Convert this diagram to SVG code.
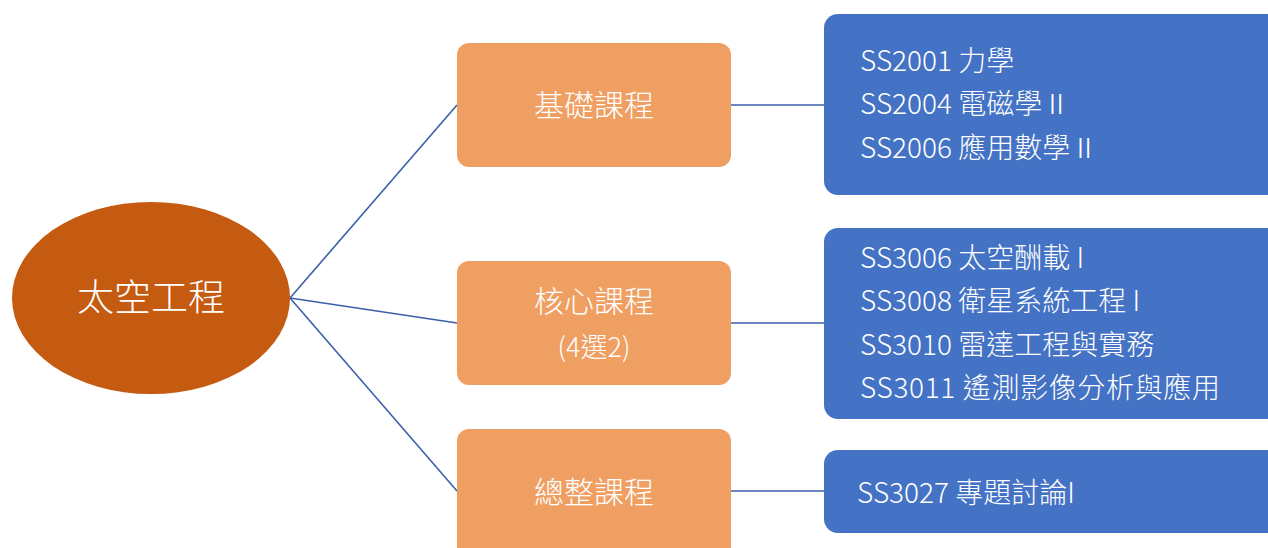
<svg xmlns="http://www.w3.org/2000/svg" width="1268" height="548" viewBox="0 0 1268 548">
<style>
.mid{fill:#F09F63;}
.leaf{fill:#4472C4;}
.t{fill:#fff;font-family:"Noto Sans CJK TC","Noto Sans",sans-serif;font-weight:300;}
.c{text-anchor:middle;}
.conn line{stroke:#3B5FA8;stroke-width:1.6;}
</style>
<rect width="1268" height="548" fill="#fff"/>
<g class="conn">
<line x1="290" y1="298" x2="457" y2="105"/>
<line x1="290" y1="298" x2="457" y2="323"/>
<line x1="290" y1="298" x2="457" y2="491"/>
<line x1="731" y1="105" x2="824" y2="105"/>
<line x1="731" y1="323" x2="824" y2="323"/>
<line x1="731" y1="491" x2="824" y2="491"/>
</g>
<g id="root">
<ellipse cx="151" cy="298" rx="139" ry="96" fill="#C55A11"/>
<text class="t c" x="151" y="311" font-size="37">太空工程</text>
</g>
<g id="basic">
<rect class="mid" x="457" y="43" width="274" height="124" rx="12"/>
<text class="t c" x="594" y="116" font-size="30">基礎課程</text>
</g>
<g id="core">
<rect class="mid" x="457" y="261" width="274" height="124" rx="12"/>
<text class="t c" x="594" y="312" font-size="30">核心課程</text>
<text class="t c" x="594" y="357" font-size="27">(4選2)</text>
</g>
<g id="capstone">
<rect class="mid" x="457" y="429" width="274" height="130" rx="12"/>
<text class="t c" x="594" y="503" font-size="30">總整課程</text>
</g>
<g id="basic-list">
<rect class="leaf" x="824" y="14" width="460" height="181" rx="14"/>
<text class="t" x="860" y="71" font-size="28">SS2001 力學</text>
<text class="t" x="860" y="114" font-size="28">SS2004 電磁學Ⅱ</text>
<text class="t" x="860" y="158" font-size="28">SS2006 應用數學Ⅱ</text>
</g>
<g id="core-list">
<rect class="leaf" x="824" y="228" width="460" height="191" rx="14"/>
<text class="t" x="860" y="268" font-size="28">SS3006 太空酬載 I</text>
<text class="t" x="860" y="311" font-size="28">SS3008 衛星系統工程 I</text>
<text class="t" x="860" y="355" font-size="28">SS3010 雷達工程與實務</text>
<text class="t" x="860" y="398" font-size="28" textLength="360" lengthAdjust="spacing">SS3011 遙測影像分析與應用</text>
</g>
<g id="capstone-list">
<rect class="leaf" x="824" y="450" width="460" height="83" rx="14"/>
<text class="t" x="857" y="503" font-size="28">SS3027 專題討論I</text>
</g>
</svg>
